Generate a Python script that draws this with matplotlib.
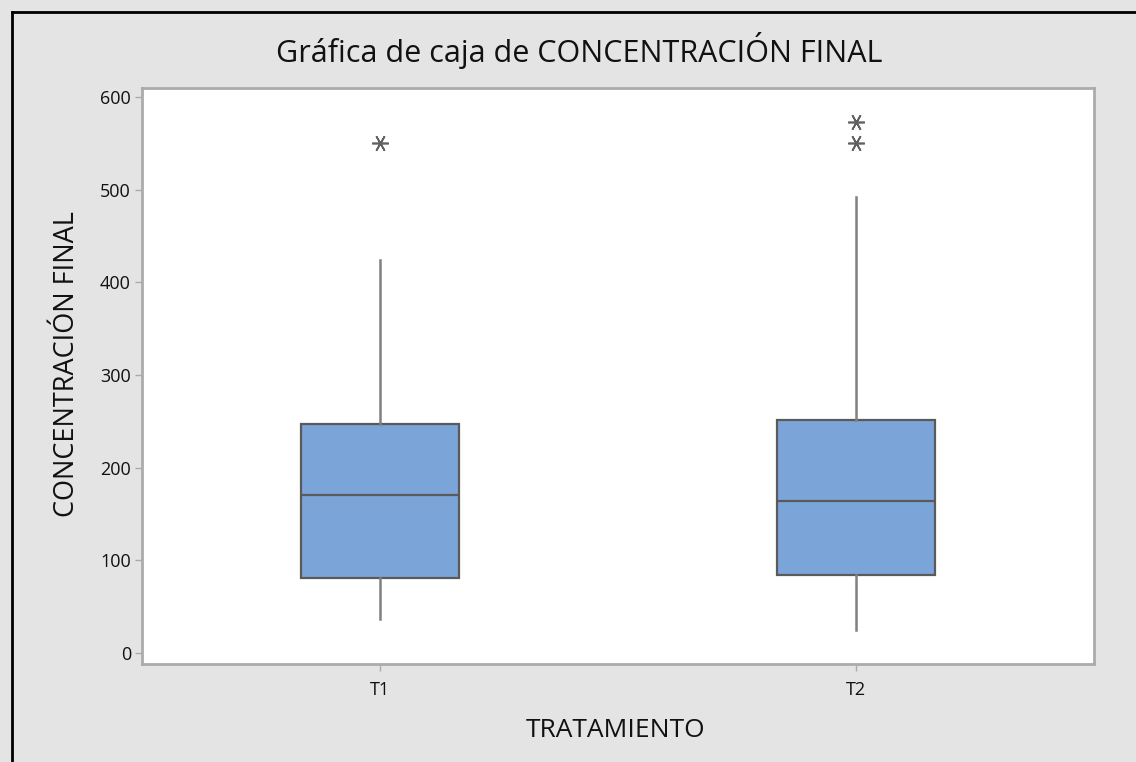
import matplotlib
matplotlib.use("Agg")
import matplotlib.pyplot as plt
from matplotlib.lines import Line2D

plt.rcParams['font.family'] = ['Open Sans', 'DejaVu Sans']

# Box-plot summaries per treatment
categories = ["T1", "T2"]
q1_vals = [81, 84]
median_vals = [171, 164]
q3_vals = [247, 251]
whisker_low = [37, 25]
whisker_high = [424, 492]
outliers = [[551], [551, 573]]

y_ticks = [0, 100, 200, 300, 400, 500, 600]

title_text = "Gráfica de caja de CONCENTRACIÓN FINAL"
x_label = "TRATAMIENTO"
y_label = "CONCENTRACIÓN FINAL"

bg = "#E4E4E4"
box_fill = "#7BA5D8"
edge_col = "#5A5A5A"
whisk_col = "#808080"
frame_col = "#ABABAB"
text_col = "#111111"

fig = plt.figure(figsize=(11.36, 7.62), dpi=100, facecolor=bg)
ax = fig.add_axes([0.125, 0.1286, 0.838, 0.7559])
ax.set_facecolor("white")

stats = []
for i, name in enumerate(categories):
    stats.append(dict(label=name, q1=q1_vals[i], med=median_vals[i], q3=q3_vals[i],
                      whislo=whisker_low[i], whishi=whisker_high[i], fliers=outliers[i]))

positions = list(range(1, len(categories) + 1))
ax.bxp(stats, positions=positions, widths=0.33, patch_artist=True, showcaps=False,
       boxprops=dict(facecolor=box_fill, edgecolor=edge_col, linewidth=1.6),
       medianprops=dict(color=edge_col, linewidth=1.6),
       whiskerprops=dict(color=whisk_col, linewidth=1.8),
       flierprops=dict(marker=(6, 2, 90), markersize=12, markeredgecolor="#606060",
                       markerfacecolor="#606060", markeredgewidth=1.2, linestyle="none"))

ax.set_xlim(0.5, 2.5)
ax.set_ylim(-12, 610)
ax.set_yticks(y_ticks)
ax.set_xticks(positions)
ax.set_xticklabels(categories)

for side in ["left", "right", "top", "bottom"]:
    ax.spines[side].set_color(frame_col)
    ax.spines[side].set_linewidth(2)

ax.tick_params(axis="both", direction="out", length=5, width=1, color=frame_col,
               labelsize=13, labelcolor=text_col)
ax.tick_params(axis="x", pad=7)
ax.tick_params(axis="y", pad=3)

ax.set_xlabel(x_label, fontsize=19, color=text_col, ha="center", va="center")
ax.set_ylabel(y_label, fontsize=19.5, color=text_col, ha="center", va="center")
ax.xaxis.set_label_coords(0.497, -0.115)
ax.yaxis.set_label_coords(-0.079, 0.52)

fig.text(0.51, 0.934, title_text, ha="center", va="center", fontsize=22, color=text_col)

# Window border along the top and left edges
fig.add_artist(Line2D([12 / 1136, 12 / 1136], [0, 1 - 12 / 762], transform=fig.transFigure,
                      color="black", linewidth=2))
fig.add_artist(Line2D([12 / 1136, 1], [1 - 12 / 762, 1 - 12 / 762], transform=fig.transFigure,
                      color="black", linewidth=2))

fig.savefig("out.png", dpi=100, facecolor=bg)
